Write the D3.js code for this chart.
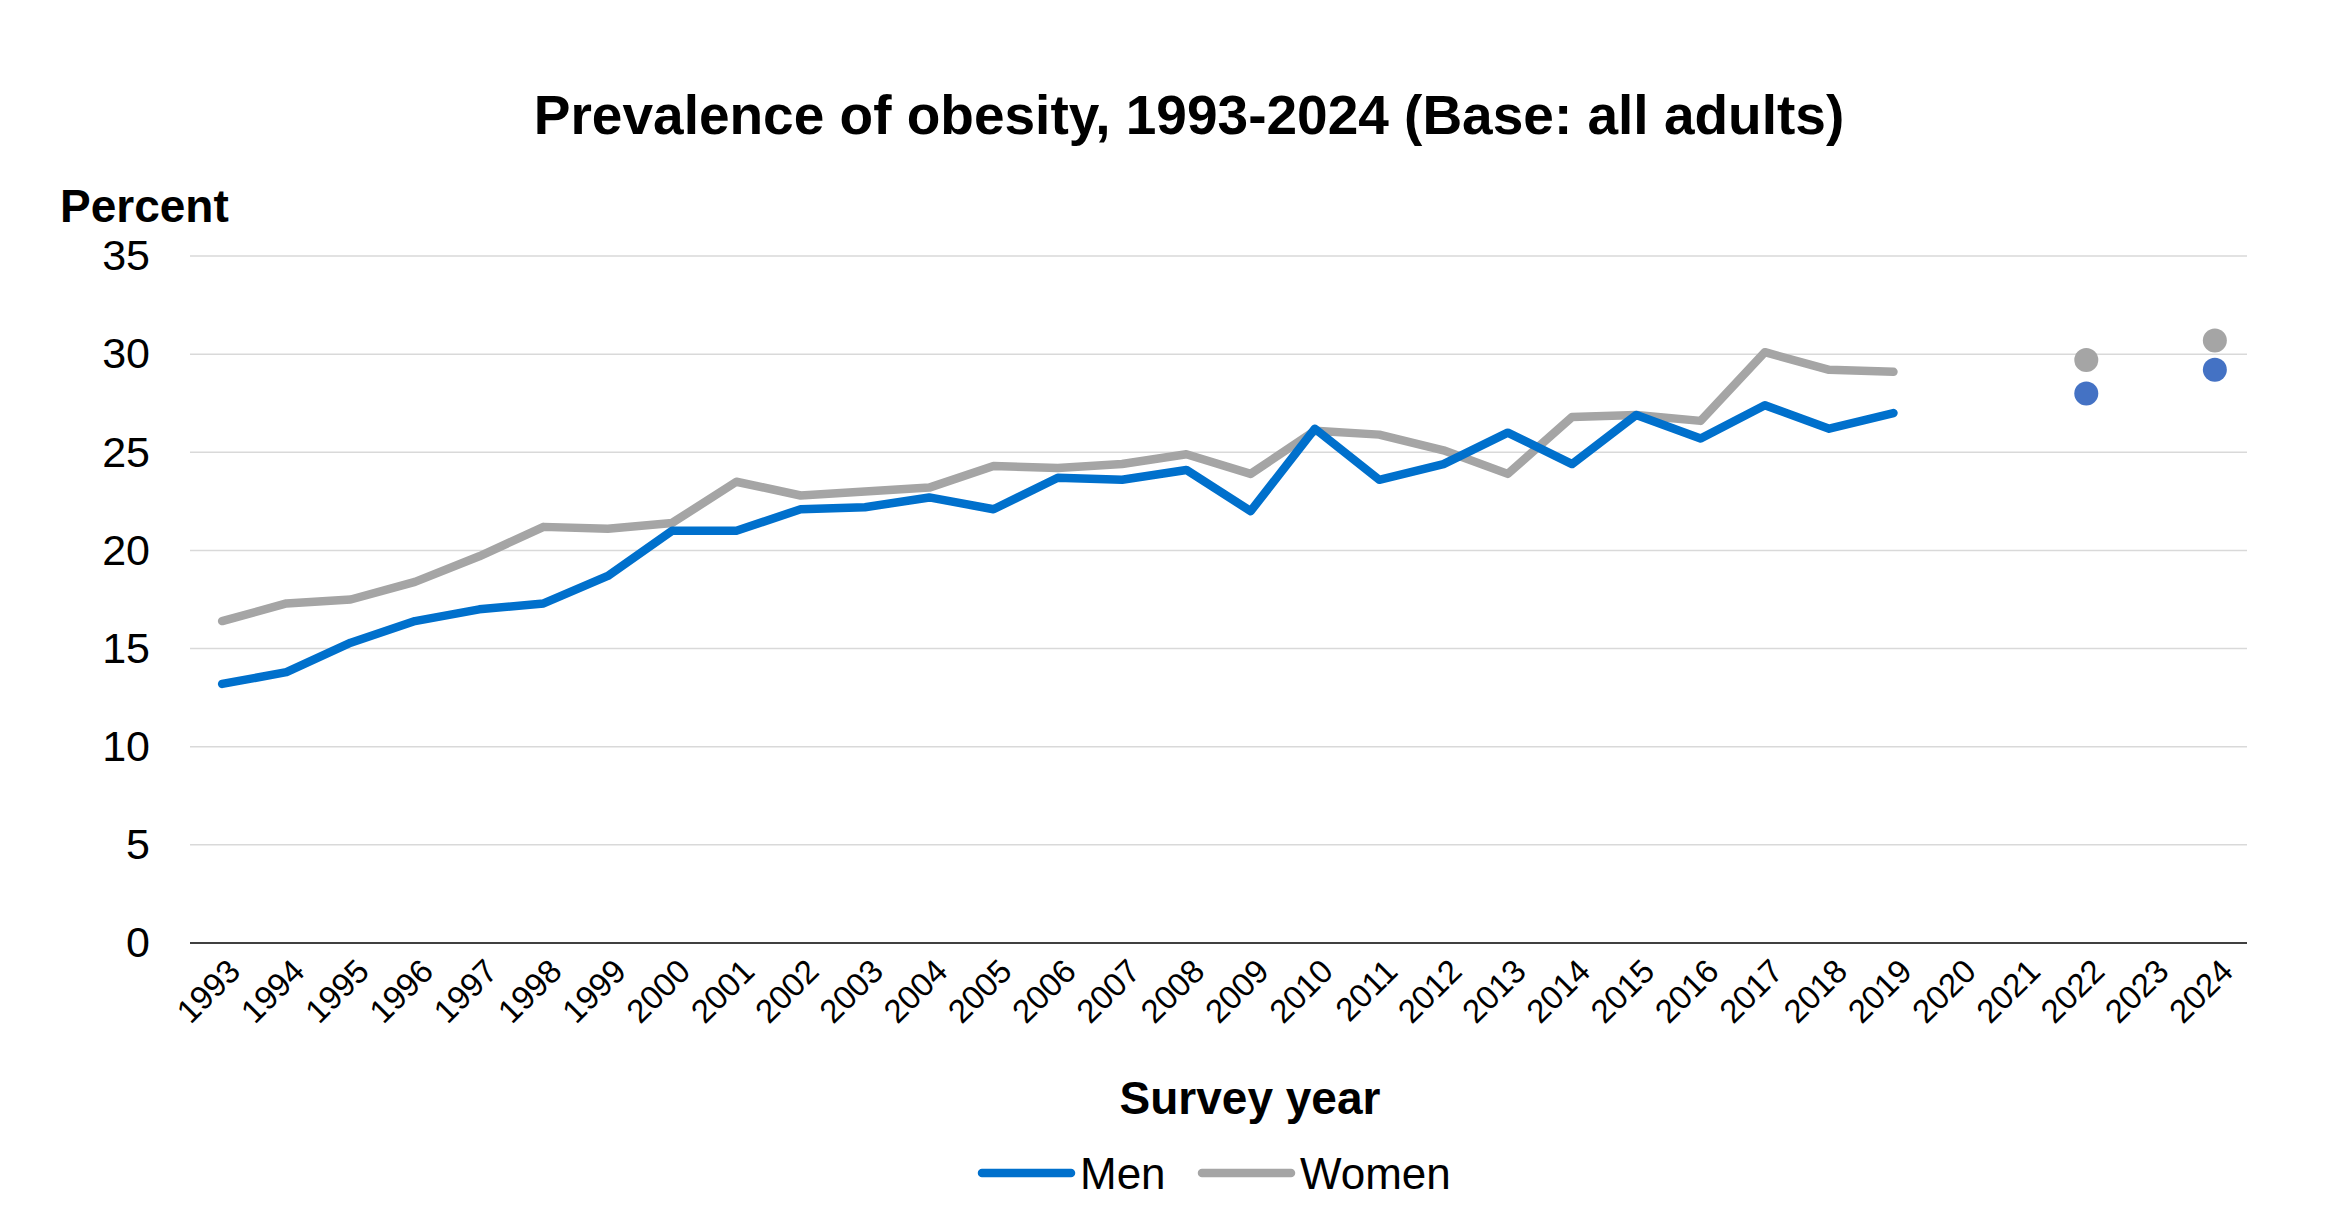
<!DOCTYPE html>
<html><head><meta charset="utf-8">
<script src="https://cdn.jsdelivr.net/npm/d3@7"></script>
<style>body{margin:0;background:#fff}svg{font-family:"Liberation Sans",Arial,sans-serif}</style>
</head><body><svg id="c" width="2332" height="1227"></svg>
<script>
const years = ["1993","1994","1995","1996","1997","1998","1999","2000","2001","2002","2003","2004","2005","2006","2007","2008","2009","2010","2011","2012","2013","2014","2015","2016","2017","2018","2019","2020","2021","2022","2023","2024"];
const lineYears = years.slice(0, 27);
const menLine = [13.2,13.8,15.3,16.4,17.0,17.3,18.7,21.0,21.0,22.1,22.2,22.7,22.1,23.7,23.6,24.1,22.0,26.2,23.6,24.4,26.0,24.4,26.9,25.7,27.4,26.2,27.0];
const womenLine = [16.4,17.3,17.5,18.4,19.7,21.2,21.1,21.4,23.5,22.8,23.0,23.2,24.3,24.2,24.4,24.9,23.9,26.1,25.9,25.1,23.9,26.8,26.9,26.6,30.1,29.2,29.1];
const dotYears = ["2022","2024"];
const menDots = [28.0,29.2];
const womenDots = [29.7,30.7];
const yTicks = [0,5,10,15,20,25,30,35];

const svg = d3.select("#c");
const L=190, R=2247, T=256, B=943;
const x = d3.scalePoint().domain(years).range([L,R]).padding(0.5);
const y = d3.scaleLinear().domain([0,35]).range([B,T]);

svg.append("g").selectAll("line").data(yTicks.slice(1)).join("line")
  .attr("x1",L).attr("x2",R).attr("y1",d=>y(d)).attr("y2",d=>y(d)).attr("stroke","#d9d9d9").attr("stroke-width",1.5);
svg.append("line").attr("x1",L).attr("x2",R).attr("y1",B).attr("y2",B).attr("stroke","#000").attr("stroke-width",1.5);

const ya = svg.append("g").attr("transform",`translate(${L},0)`).call(d3.axisLeft(y).tickValues(yTicks).tickSize(0).tickPadding(40));
ya.select(".domain").remove();
ya.selectAll("text").attr("font-size",43).attr("font-family","Liberation Sans").attr("fill","#000");

svg.append("g").selectAll("text").data(years).join("text")
  .attr("transform",d=>`translate(${x(d)+14},${B+24}) rotate(-45)`)
  .attr("text-anchor","end").attr("dominant-baseline","middle").attr("font-size",33).text(d=>d);

const line = d3.line().x((d,i)=>x(lineYears[i])).y(d=>y(d));
svg.append("path").datum(womenLine).attr("d",line).attr("fill","none").attr("stroke","#A5A5A5").attr("stroke-width",8.5).attr("stroke-linecap","round").attr("stroke-linejoin","round");
svg.append("path").datum(menLine).attr("d",line).attr("fill","none").attr("stroke","#0070CC").attr("stroke-width",8.5).attr("stroke-linecap","round").attr("stroke-linejoin","round");

svg.append("g").selectAll("circle").data(womenDots).join("circle").attr("cx",(d,i)=>x(dotYears[i])).attr("cy",d=>y(d)).attr("r",12).attr("fill","#A5A5A5");
svg.append("g").selectAll("circle").data(menDots).join("circle").attr("cx",(d,i)=>x(dotYears[i])).attr("cy",d=>y(d)).attr("r",12).attr("fill","#4472C4");

svg.append("text").attr("x",1189).attr("y",134).attr("text-anchor","middle").attr("font-size",55).attr("font-weight","bold").text("Prevalence of obesity, 1993-2024 (Base: all adults)");
svg.append("text").attr("x",60).attr("y",222).attr("font-size",46).attr("font-weight","bold").text("Percent");
svg.append("text").attr("x",1250).attr("y",1114).attr("text-anchor","middle").attr("font-size",46).attr("font-weight","bold").text("Survey year");

const leg = [{n:"Men",c:"#0070CC",x:982},{n:"Women",c:"#A5A5A5",x:1202}];
leg.forEach(l=>{
  svg.append("line").attr("x1",l.x).attr("x2",l.x+89).attr("y1",1173).attr("y2",1173).attr("stroke",l.c).attr("stroke-width",8.5).attr("stroke-linecap","round");
  svg.append("text").attr("x",l.x+98).attr("y",1189).attr("font-size",44).text(l.n);
});
</script></body></html>
